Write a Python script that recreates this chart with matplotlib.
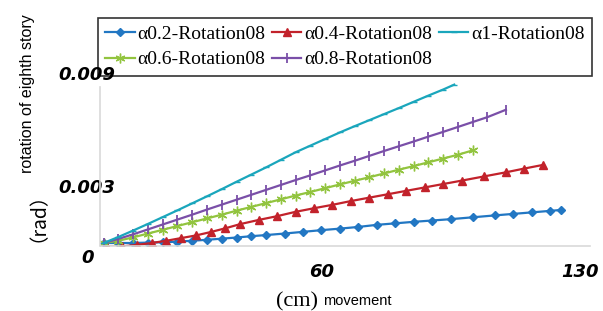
import matplotlib
matplotlib.use("Agg")
import matplotlib.pyplot as plt

# donnees (deplacement en cm, rotation en rad)
x_a02 = [1, 5, 9, 13, 17, 21, 25, 29, 33, 37, 41, 45, 50, 55, 60, 65, 70, 75, 80, 85,
         90, 95, 101, 107, 112, 117, 122, 125]
y_a02 = [0.0, 0.0, 0.0, 0.00002, 0.00004, 0.00007, 0.00012, 0.00017, 0.00023, 0.00029,
         0.00036, 0.00042, 0.00050, 0.00059, 0.00068, 0.00076, 0.00085, 0.00096, 0.00104,
         0.00112, 0.00119, 0.00126, 0.00136, 0.00146, 0.00154, 0.00162, 0.00170, 0.00175]

x_a04 = [2, 6, 10, 14, 18, 22, 26, 30, 34, 38, 43, 48, 53, 58, 63, 68, 73, 78, 83, 88,
         93, 98, 104, 110, 115, 120]
y_a04 = [-0.0002, -0.00018, -0.0001, 0.0, 0.00012, 0.00026, 0.0004, 0.00058, 0.00078,
         0.001, 0.00122, 0.00142, 0.00165, 0.00184, 0.00202, 0.00222, 0.0024, 0.00258,
         0.00276, 0.00294, 0.00312, 0.0033, 0.00352, 0.00374, 0.00394, 0.00413]

x_a06 = [1, 5, 9, 13, 17, 21, 25, 29, 33, 37, 41, 45, 49, 53, 57, 61, 65, 69, 73, 77,
         81, 85, 89, 93, 97, 101]
y_a06 = [0.0, 0.00012, 0.0003, 0.0005, 0.0007, 0.0009, 0.0011, 0.0013, 0.0015, 0.00171,
         0.00191, 0.00211, 0.00231, 0.00251, 0.0027, 0.0029, 0.0031, 0.00329, 0.00348,
         0.00368, 0.00388, 0.00407, 0.00427, 0.00447, 0.00467, 0.0049]

x_a08 = [1, 5, 9, 13, 17, 21, 25, 29, 33, 37, 41, 45, 49, 53, 57, 61, 65, 69, 73, 77,
         81, 85, 89, 93, 97, 101, 105, 110]
y_a08 = [0.0, 0.00022, 0.00046, 0.00072, 0.00098, 0.00124, 0.0015, 0.00177, 0.00203,
         0.00229, 0.00255, 0.00281, 0.00307, 0.00333, 0.00358, 0.00384, 0.0041, 0.00435,
         0.00461, 0.00487, 0.00512, 0.00537, 0.00563, 0.00588, 0.00614, 0.0064, 0.00666,
         0.00705]

x_a1 = [1, 5, 9, 13, 17, 21, 25, 29, 33, 37, 41, 45, 49, 53, 57, 61, 65, 69, 73, 77,
        81, 85, 89, 93, 96]
y_a1 = [0.0, 0.00032, 0.00066, 0.00101, 0.00137, 0.00173, 0.0021, 0.00247, 0.00285,
        0.00324, 0.00362, 0.004, 0.0044, 0.0048, 0.00515, 0.0055, 0.00585, 0.00618,
        0.0065, 0.00682, 0.00714, 0.00747, 0.0078, 0.00812, 0.00838]

xticks = [60, 130]
xtick_labels = ["60", "130"]
yticks = [0.003, 0.009]
ytick_labels = ["0.003", "0.009"]

W, H = 603, 311
fig = plt.figure(figsize=(W / 100, H / 100), dpi=100)

# zone du graphique en pixels
left, right, top, bottom = 100, 590, 70, 246
ax = fig.add_axes([left / W, 1 - bottom / H, (right - left) / W, (bottom - top) / H])
ax.patch.set_visible(False)

lw = 1.6
h02, = ax.plot(x_a02, y_a02, color="#2277c3", lw=lw, marker="D", ms=4.5,
               label="α0.2-Rotation08")
h04, = ax.plot(x_a04, y_a04, color="#c2222b", lw=lw, marker="^", ms=6,
               label="α0.4-Rotation08")
h06, = ax.plot(x_a06, y_a06, color="#92c43f", lw=lw, marker=(6, 2, 0), ms=7,
               label="α0.6-Rotation08")
h08, = ax.plot(x_a08, y_a08, color="#7a4fa8", lw=lw, marker="|", ms=7, mew=1.3,
               label="α0.8-Rotation08")
h1, = ax.plot(x_a1, y_a1, color="#1aa6bc", lw=lw, marker="_", ms=4,
              label="α1-Rotation08")

# echelle : 0 a 243 px, 18.9 px par 0.001 rad ; 3.69 px par cm
ax.set_xlim(0, (right - left) / 3.69)
ax.set_ylim((243 - bottom) / 18900, (243 - top) / 18900)

for s in ["top", "right"]:
    ax.spines[s].set_visible(False)
ax.spines["left"].set_color("#d9d9d9")
ax.spines["bottom"].set_color("#d9d9d9")
ax.spines["left"].set_linewidth(1.2)
ax.spines["bottom"].set_linewidth(1.2)
ax.spines["left"].set_bounds(-0.0001, 0.00825)

tick_font = dict(family="DejaVu Sans", weight="bold", style="italic", size=13)
ax.set_xticks(xticks)
ax.set_xticklabels(xtick_labels, **tick_font)
ax.set_yticks(yticks)
ax.set_yticklabels(ytick_labels, **tick_font)
ax.tick_params(axis="x", length=0, pad=12)
ax.tick_params(axis="y", length=0, pad=-11)
fig.text(88 / W, 1 - 258 / H, "0", ha="center", va="center", **tick_font)

# titres des axes
fig.text(28 / W, 1 - 207 / H, "（rad）", rotation=90, ha="center", va="center",
         family=["Noto Sans CJK SC", "DejaVu Sans"], size=14)
fig.text(28 / W, 1 - 94 / H, "rotation of eighth story", rotation=90, ha="center",
         va="center", family="Liberation Sans", size=11.5)
fig.text(297 / W, 1 - 302 / H, "(cm)", ha="center", va="center",
         family="Liberation Serif", size=16)
fig.text(357 / W, 1 - 301 / H, "movement", ha="center", va="center",
         family="Liberation Sans", size=10.5)

leg = fig.legend(handles=[h02, h06, h04, h08, h1], ncol=3, loc="upper left",
                 bbox_to_anchor=(98 / W, 1 - 18 / H), borderaxespad=0,
                 prop=dict(family="Liberation Serif", size=14), frameon=True,
                 fancybox=False, edgecolor="black", handlelength=1.5,
                 handletextpad=0.15, columnspacing=0.35, borderpad=0.38,
                 labelspacing=0.4)
leg.get_frame().set_linewidth(1.2)
leg.set_zorder(-1)  # les graduations passent devant le cadre

fig.savefig("out.png", dpi=100)
